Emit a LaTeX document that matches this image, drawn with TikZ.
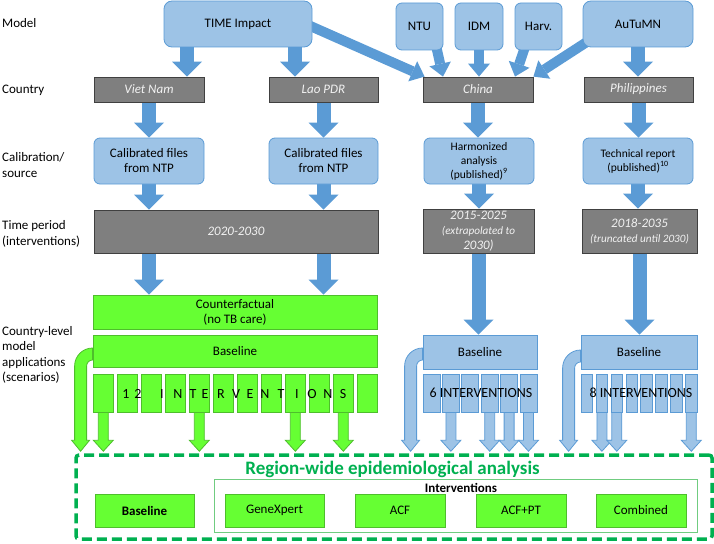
\documentclass[tikz,border=0pt]{standalone}
\usepackage{fontspec}
\setmainfont{Carlito}
\usetikzlibrary{arrows.meta,calc}

\definecolor{modelfill}{HTML}{9DC3E6}
\definecolor{modelline}{HTML}{5B9BD5}
\definecolor{countryfill}{HTML}{7F7F7F}
\definecolor{countryline}{HTML}{404040}
\definecolor{countrytext}{HTML}{F2F2F2}
\definecolor{scenfill}{HTML}{66FF33}
\definecolor{scenline}{HTML}{4EBE2C}
\definecolor{regionline}{HTML}{00B050}
\definecolor{frameline}{HTML}{70CC80}

\pgfdeclarelayer{back}
\pgfsetlayers{back,main}

\newcommand{\fs}[2]{\fontsize{#1}{#2}\selectfont}

% straight outlined arrow from a scenario box down to the region box
\newcommand{\dropArrow}[3]{%
  \draw[#1] let \p1 = (#2), \p2 = (#3) in
    (\x1-5pt, \y1) -- (\x1-5pt, \y2+13pt) -- (\x1-10pt, \y2+13pt) -- (\x1, \y2+2pt)
    -- (\x1+10pt, \y2+13pt) -- (\x1+5pt, \y2+13pt) -- (\x1+5pt, \y1) -- cycle;}

% bent outlined arrow leaving a baseline box on its left side
\newcommand{\bendArrow}[3]{%
  \draw[#1] let \p1 = (#2), \p2 = (#3) in
    (\x1, \y1+6pt) arc[start angle = 90, end angle = 180, radius = 18pt]
    -- (\x1-18pt, \y2+13pt) -- (\x1-21pt, \y2+13pt) -- (\x1-12pt, \y2+2pt)
    -- (\x1-3pt, \y2+13pt) -- (\x1-6pt, \y2+13pt) -- (\x1-6pt, \y1-12pt)
    arc[start angle = 180, end angle = 90, radius = 6pt] -- cycle;}

\begin{document}
\begin{tikzpicture}[x = 1pt, y = -1pt,
    every node/.style = {font = \fs{13}{15}, align = center, inner sep = 0pt},
    modelbox/.style = {draw = modelline, fill = modelfill, line width = 0.8pt, rounded corners = 6pt},
    countrybox/.style = {draw = countryline, fill = countryfill, line width = 0.8pt, text = countrytext, font = \fs{13}{15}\itshape},
    scenbox/.style = {draw = scenline, fill = scenfill, line width = 0.8pt},
    sidelabel/.style = {anchor = west, align = left, font = \fs{13}{15.5}},
    flow/.style = {draw = modelline, line width = 14pt, -{Triangle[width = 30pt, length = 15pt, line width = 0pt]}},
    feed/.style = {draw = modelline, line width = 10pt, -{Triangle[width = 22pt, length = 13pt, line width = 0pt]}},
    greendrop/.style = {draw = scenline, fill = scenfill, line width = 0.8pt},
    bluedrop/.style = {draw = modelline, fill = modelfill, line width = 0.8pt}]

  \useasboundingbox (0,0) rectangle (714,543);

  % row labels
  \node[sidelabel] (lmodel) at (2,23) {Model};
  \node[sidelabel] (lcountry) at (2,90) {Country};
  \node[sidelabel] (lcalib) at (2,165) {Calibration/\\source};
  \node[sidelabel] (ltime) at (2,234) {Time period\\(interventions)};
  \node[sidelabel] (lscen) at (2,355) {Country-level\\model\\applications\\(scenarios)};

  % models
  \node[modelbox, rounded corners = 8pt, minimum width = 148, minimum height = 46] (time) at (238,24) {TIME Impact};
  \node[modelbox, minimum width = 47, minimum height = 47] (ntu) at (419.5,26.5) {NTU};
  \node[modelbox, minimum width = 48, minimum height = 47] (idm) at (479,26.5) {IDM};
  \node[modelbox, minimum width = 47, minimum height = 47] (harv) at (538.5,26.5) {Harv.};
  \node[modelbox, rounded corners = 8pt, minimum width = 110, minimum height = 46] (autumn) at (638,24) {AuTuMN};

  % countries
  \node[countrybox, minimum width = 110, minimum height = 25] (viet) at (149,89.5) {Viet Nam};
  \node[countrybox, minimum width = 109, minimum height = 25] (lao) at (323.5,89.5) {Lao PDR};
  \node[countrybox, minimum width = 110, minimum height = 25] (china) at (478,89.5) {China};
  \node[countrybox, minimum width = 109, minimum height = 25] (phil) at (638.5,89.5) {Philippines};

  % calibration / source
  \node[modelbox, minimum width = 110, minimum height = 46] (cal1) at (149,161) {Calibrated files\\from NTP};
  \node[modelbox, minimum width = 109, minimum height = 46] (cal2) at (323.5,161) {Calibrated files\\from NTP};
  \node[modelbox, minimum width = 110, minimum height = 46, font = \fs{11.5}{14}] (harm) at (479,161) {Harmonized\\analysis\\(published)\textsuperscript{9}};
  \node[modelbox, minimum width = 110, minimum height = 46, font = \fs{11.5}{14}] (tech) at (638,161) {Technical report\\(published)\textsuperscript{10}};

  % time periods
  \node[countrybox, minimum width = 284, minimum height = 43] (t1) at (236,231.5) {2020-2030};
  \node[countrybox, minimum width = 111, minimum height = 44] (t2) at (478.5,231) {2015-2025\\\fs{11.2}{14}(extrapolated to\\2030)};
  \node[countrybox, minimum width = 115, minimum height = 44] (t3) at (639.5,231) {2018-2035\\\fs{11.2}{15}(truncated until 2030)};

  % scenarios
  \node[scenbox, minimum width = 284, minimum height = 34] (cf) at (235,312) {Counterfactual\\(no TB care)};
  \node[scenbox, minimum width = 284, minimum height = 32] (gbase) at (235,351) {Baseline};
  \node[modelbox, rounded corners = 0pt, minimum width = 114, minimum height = 34] (cbase) at (480,352) {Baseline};
  \node[modelbox, rounded corners = 0pt, minimum width = 116, minimum height = 34] (pbase) at (639,352) {Baseline};

  \foreach \i in {1,...,12}
    \node[scenbox, minimum width = 20, minimum height = 38] (g\i) at ({103.3+(\i-1)*24},393) {};
  \foreach \i in {1,...,6}
    \node[modelbox, rounded corners = 0pt, minimum width = 17, minimum height = 38] (c\i) at ({431.5+(\i-1)*19.4},393) {};
  \foreach \i in {1,...,8}
    \node[modelbox, rounded corners = 0pt, minimum width = 11.5, minimum height = 38] (p\i) at ({587+(\i-1)*14.9},393) {};

  \foreach \lx/\ch [count = \n] in {126/1, 138/2, 162/I, 178/N, 193/T, 205/E, 221/R, 236/V,
      250/E, 265/N, 281/T, 297/I, 312/O, 328/N, 343/S}
    \node[font = \fs{14}{16}] (ltr\n) at (\lx,394) {\ch};
  \node[font = \fs{14}{16}] (cint) at (481,393) {6 INTERVENTIONS};
  \node[font = \fs{14}{16}] (pint) at (641,393) {8 INTERVENTIONS};

  % region-wide analysis
  \node[draw = regionline, line width = 3.5pt, dash pattern = on 10pt off 5pt, rounded corners = 3pt,
    minimum width = 636, minimum height = 84] (region) at (394,497) {};
  \node[font = \fs{19}{21}\bfseries, text = regionline] (rtitle) at (392.5,469) {Region-wide epidemiological analysis};
  \node[draw = frameline, line width = 0.8pt, minimum width = 483, minimum height = 53] (ivframe) at (455.5,505.5) {};
  \node[font = \fs{13}{15}\bfseries] (ivlabel) at (461,488) {Interventions};
  \node[scenbox, minimum width = 99, minimum height = 33, font = \fs{13}{15}\bfseries] (rbase) at (144.5,510.5) {Baseline};
  \node[scenbox, minimum width = 99, minimum height = 33] (rgx) at (274.5,510.5) {GeneXpert};
  \node[scenbox, minimum width = 90, minimum height = 33] (racf) at (400,510.5) {ACF};
  \node[scenbox, minimum width = 90, minimum height = 33] (racfpt) at (521,510.5) {ACF+PT};
  \node[scenbox, minimum width = 90, minimum height = 33] (rcomb) at (641,510.5) {Combined};

  \begin{pgfonlayer}{back}
    % models -> countries
    \coordinate (tv) at ([xshift = 38]viet.north);
    \coordinate (tl) at ([xshift = -28.5]lao.north);
    \draw[flow] (tv |- time.center) -- (tv);
    \draw[flow] (tl |- time.center) -- (tl);
    \draw[flow] (autumn) -- (autumn |- phil.north);
    \draw[feed] ([xshift = 52, yshift = 7]time.center) -- ([xshift = 2]china.north west);
    \draw[feed] ([xshift = 14.5, yshift = -10]ntu.center) -- ([xshift = -35]china.north);
    \draw[feed] (idm) -- (idm |- china.north);
    \draw[feed] ([xshift = -10, yshift = -10]harv.center) -- ([xshift = 37]china.north);
    \draw[feed] ([xshift = -35, yshift = -7.5]autumn.center) -- (china.north east);

    % countries -> calibration -> time periods
    \draw[flow] (viet) -- (cal1.north);
    \draw[flow] (lao) -- (cal2.north);
    \draw[flow] (china) -- (china |- harm.north);
    \draw[flow] (phil) -- (phil |- tech.north);
    \draw[flow] (cal1) -- (cal1 |- t1.north);
    \draw[flow] (cal2) -- (cal2 |- t1.north);
    \draw[flow] (harm) -- (harm |- t2.north);
    \draw[flow] (tech) -- (tech |- t3.north);

    % time periods -> scenarios
    \draw[flow] (cal1 |- t1.center) -- (cal1 |- cf.north);
    \draw[flow] (cal2 |- t1.center) -- (cal2 |- cf.north);
    \draw[flow] (t2) -- (t2 |- cbase.north);
    \draw[flow] (t3) -- (t3 |- pbase.north);

    % scenarios -> region-wide analysis
    \foreach \i in {1,5,9,11} {\dropArrow{greendrop}{g\i.south}{region.north}}
    \foreach \i in {2,4,5,6} {\dropArrow{bluedrop}{c\i.south}{region.north}}
    \foreach \i in {2,3,8} {\dropArrow{bluedrop}{p\i.south}{region.north}}
    \bendArrow{greendrop}{[yshift = -3]gbase.west}{region.north}
    \bendArrow{bluedrop}{[yshift = -2]cbase.west}{region.north}
    \bendArrow{bluedrop}{[yshift = -4]pbase.west}{region.north}
  \end{pgfonlayer}
\end{tikzpicture}
\end{document}
